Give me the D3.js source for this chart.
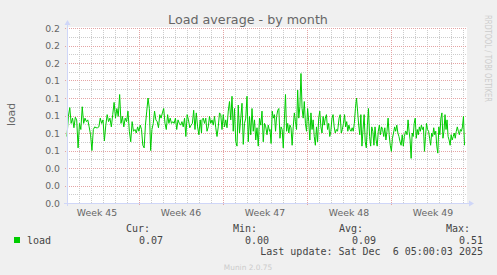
<!DOCTYPE html>
<html>
<head>
<meta charset="utf-8">
<script src="https://cdn.jsdelivr.net/npm/d3@7/dist/d3.min.js"></script>
<style>
  body{ margin:0; background:#f0f0f0; }
  svg{ display:block; }
  text{ font-family:"DejaVu Sans", sans-serif; }
  .mono{ font-family:"DejaVu Sans Mono", monospace; white-space:pre; }
</style>
</head>
<body>
<svg id="chart" width="497" height="275"></svg>
<script>
// load readings in six runs (start, end of each run)
const runTimes = [
  ["2025-11-04T00:00Z", "2025-11-09T13:00Z"],
  ["2025-11-09T16:00Z", "2025-11-15T05:00Z"],
  ["2025-11-15T06:00Z", "2025-11-20T21:00Z"],
  ["2025-11-20T22:00Z", "2025-11-26T13:00Z"],
  ["2025-11-26T14:00Z", "2025-12-02T05:00Z"],
  ["2025-12-02T06:00Z", "2025-12-07T03:00Z"]
];
const load1 = [0.076,0.099,0.109,0.091,0.097,0.086,0.098,0.095,0.063,0.091,0.084,0.110,0.091,0.097,0.093,0.095,0.087,0.078,0.060,0.084,0.087,0.086,0.086,0.087,0.097,0.091,0.095,0.071,0.089,0.101,0.093,0.097,0.087,0.101,0.115,0.097,0.108,0.099,0.124,0.091,0.099,0.087,0.097,0.093,0.105,0.082,0.070,0.093,0.082];
const load2 = [0.084,0.080,0.087,0.082,0.089,0.084,0.066,0.063,0.089,0.105,0.120,0.108,0.060,0.084,0.091,0.105,0.095,0.093,0.086,0.101,0.097,0.103,0.108,0.091,0.084,0.101,0.091,0.097,0.091,0.093,0.091,0.097,0.084,0.095,0.091,0.089,0.093,0.087,0.097,0.076,0.101,0.095,0.086,0.089,0.091,0.106,0.084,0.103,0.087,0.078,0.095,0.080];
const load3 = [0.095,0.097,0.091,0.097,0.082,0.087,0.099,0.091,0.095,0.089,0.099,0.086,0.076,0.087,0.103,0.101,0.084,0.101,0.087,0.095,0.086,0.105,0.116,0.095,0.122,0.082,0.108,0.070,0.065,0.112,0.080,0.097,0.114,0.067,0.091,0.097,0.122,0.070,0.099,0.078,0.108,0.082,0.095,0.072,0.086,0.065,0.097,0.089,0.105,0.070,0.091,0.087,0.078,0.089,0.082];
const load4 = [0.084,0.068,0.105,0.097,0.101,0.082,0.099,0.106,0.108,0.074,0.087,0.084,0.063,0.095,0.124,0.082,0.091,0.080,0.089,0.086,0.066,0.087,0.103,0.093,0.084,0.129,0.097,0.110,0.148,0.108,0.097,0.116,0.091,0.082,0.108,0.093,0.072,0.103,0.084,0.095,0.076,0.066,0.087,0.070,0.097,0.105,0.087,0.080,0.099,0.089,0.097,0.101,0.084,0.091,0.076,0.082,0.097,0.101,0.087,0.080,0.084,0.082];
const load5 = [0.086,0.097,0.101,0.080,0.084,0.091,0.101,0.087,0.093,0.082,0.089,0.084,0.082,0.086,0.082,0.091,0.108,0.120,0.105,0.089,0.078,0.101,0.065,0.084,0.101,0.070,0.063,0.089,0.108,0.076,0.065,0.087,0.082,0.066,0.087,0.072,0.065,0.082,0.089,0.078,0.087,0.084,0.076,0.086,0.072,0.082,0.097,0.078,0.066,0.059,0.074,0.080,0.087,0.082,0.089,0.080,0.076,0.070,0.066,0.078,0.065,0.076,0.082];
const load6 = [0.082,0.078,0.095,0.082,0.072,0.051,0.080,0.076,0.091,0.097,0.074,0.084,0.078,0.087,0.082,0.089,0.084,0.087,0.059,0.076,0.091,0.084,0.082,0.074,0.066,0.080,0.076,0.086,0.078,0.082,0.065,0.057,0.087,0.078,0.097,0.103,0.074,0.082,0.101,0.084,0.095,0.076,0.072,0.066,0.078,0.072,0.076,0.080,0.074,0.082,0.087,0.082,0.078,0.084,0.082,0.087,0.099,0.066];
const loadRuns = [load1, load2, load3, load4, load5, load6];

const timeDomain = ["2025-11-04T00:00Z", "2025-12-07T08:00Z"];
const weekStarts = ["2025-11-03T00:00Z","2025-11-10T00:00Z","2025-11-17T00:00Z","2025-11-24T00:00Z","2025-12-01T00:00Z"];
const weekLabels = ["Week 45","Week 46","Week 47","Week 48","Week 49"];
const yTicks = [0,0.02,0.04,0.06,0.08,0.10,0.12,0.14,0.16,0.18,0.20];

const statNames = ["Cur:","Min:","Avg:","Max:"];
const statValues = ["0.07","0.00","0.09","0.51"];

const W = 497, H = 275;
const pLeft = 67, pRight = 467, pTop = 28, pBottom = 203;
const svg = d3.select("#chart");

svg.append("rect").attr("width", W).attr("height", H).attr("fill", "#f0f0f0");
svg.append("rect").attr("x", pLeft).attr("y", pTop - 1)
  .attr("width", pRight - pLeft).attr("height", pBottom - pTop + 1).attr("fill", "#fff");

var x = d3.scaleUtc()
  .domain(timeDomain.map(d => new Date(d)))
  .range([pLeft, pRight]);
var y = d3.scaleLinear()
  .domain([0, 0.2])
  .range([pBottom, pTop]);

const px = v => Math.round(v) + 0.5;
const grid = svg.append("g").attr("fill", "none").attr("stroke-dasharray", "1,1");

// minor grid: every day, every 0.01
const weekMs = weekStarts.map(d => +new Date(d));
d3.utcDay.range(x.domain()[0], x.domain()[1])
  .filter(d => !weekMs.includes(+d))
  .forEach(d => {
    grid.append("line").attr("x1", px(x(d))).attr("x2", px(x(d)))
      .attr("y1", pTop).attr("y2", pBottom).attr("stroke", "#cccccc");
  });
d3.range(1, 20, 2).map(i => i / 100).forEach(v => {
  grid.append("line").attr("x1", pLeft).attr("x2", pRight)
    .attr("y1", px(y(v))).attr("y2", px(y(v))).attr("stroke", "#cccccc");
});

// major grid
weekStarts.map(d => new Date(d)).filter(d => x(d) > pLeft).forEach(d => {
  grid.append("line").attr("x1", px(x(d))).attr("x2", px(x(d)))
    .attr("y1", pTop).attr("y2", pBottom + 2).attr("stroke", "#e4a4a4");
});
yTicks.filter(v => v > 0).forEach(v => {
  grid.append("line").attr("x1", pLeft - 2).attr("x2", pRight)
    .attr("y1", px(y(v))).attr("y2", px(y(v))).attr("stroke", "#e4a4a4");
});

// the load line, one path over all runs
const points = [];
loadRuns.forEach((vals, r) => {
  const t0 = +new Date(runTimes[r][0]), t1 = +new Date(runTimes[r][1]);
  vals.forEach((v, i) => {
    points.push([new Date(t0 + (t1 - t0) * i / (vals.length - 1)), v]);
  });
});
svg.append("path")
  .datum(points)
  .attr("fill", "none")
  .attr("stroke", "#00cc00")
  .attr("stroke-width", 1)
  .attr("d", d3.line().x(d => x(d[0])).y(d => y(d[1])));

// axes with arrows
const axisCol = "#cfd6f8";
svg.append("line").attr("x1", pLeft - 3).attr("x2", pRight + 3)
  .attr("y1", pBottom + 0.5).attr("y2", pBottom + 0.5).attr("stroke", axisCol);
svg.append("line").attr("x1", pLeft + 0.5).attr("x2", pLeft + 0.5)
  .attr("y1", pBottom + 3).attr("y2", pTop - 4).attr("stroke", axisCol);
svg.append("path").attr("fill", axisCol)
  .attr("d", `M${pRight + 7},${pBottom + 0.5}L${pRight + 2},${pBottom - 2.5}L${pRight + 2},${pBottom + 3.5}Z`);
svg.append("path").attr("fill", axisCol)
  .attr("d", `M${pLeft + 0.5},${pTop - 8}L${pLeft - 2.5},${pTop - 3}L${pLeft + 3.5},${pTop - 3}Z`);

// tick labels
const fmt = d3.format(".1f");
svg.append("g").selectAll("text").data(yTicks).join("text")
  .attr("x", 60).attr("y", d => y(d) + 3.5)
  .attr("text-anchor", "end").attr("font-size", 9.3).attr("fill", "#666")
  .text(d => fmt(d));

svg.append("g").selectAll("text").data(weekStarts).join("text")
  .attr("x", d => x(d3.utcHour.offset(new Date(d), 84)))
  .attr("y", 216)
  .attr("text-anchor", "middle").attr("font-size", 9.3).attr("fill", "#666")
  .text((d, i) => weekLabels[i]);

// titles
svg.append("text").attr("x", 248).attr("y", 23.5).attr("text-anchor", "middle")
  .attr("font-size", 12.7).attr("fill", "#666").text("Load average - by month");
svg.append("text").attr("transform", "translate(14.5,114.5) rotate(-90)")
  .attr("text-anchor", "middle").attr("font-size", 10.8).attr("fill", "#666").text("load");
svg.append("text").attr("transform", "translate(484.5,15) rotate(90)")
  .attr("font-size", 8.3).attr("fill", "#cccccc").attr("textLength", 87)
  .attr("lengthAdjust", "spacingAndGlyphs")
  .text("RRDTOOL / TOBI OETIKER");

// legend
const statLabelX = [150, 257, 363, 470];
const statValueX = [163, 269, 376, 483];
svg.append("g").selectAll("text").data(statNames).join("text")
  .attr("class", "mono").attr("x", (d, i) => statLabelX[i]).attr("y", 232)
  .attr("text-anchor", "end").attr("font-size", 10).attr("fill", "#444").text(d => d);
svg.append("rect").attr("x", 14).attr("y", 237).attr("width", 6).attr("height", 6).attr("fill", "#00cc00");
svg.append("text").attr("class", "mono").attr("x", 27).attr("y", 243.5)
  .attr("font-size", 10).attr("fill", "#444").text("load");
svg.append("g").selectAll("text").data(statValues).join("text")
  .attr("class", "mono").attr("x", (d, i) => statValueX[i]).attr("y", 243.5)
  .attr("text-anchor", "end").attr("font-size", 10).attr("fill", "#444").text(d => d);
svg.append("text").attr("class", "mono").attr("x", 483).attr("y", 255)
  .attr("text-anchor", "end").attr("font-size", 10).attr("fill", "#444")
  .text("Last update: Sat Dec  6 05:00:03 2025");
svg.append("text").attr("x", 248).attr("y", 270).attr("text-anchor", "middle")
  .attr("font-size", 7.4).attr("fill", "#cccccc").text("Munin 2.0.75");
</script>
</body>
</html>
